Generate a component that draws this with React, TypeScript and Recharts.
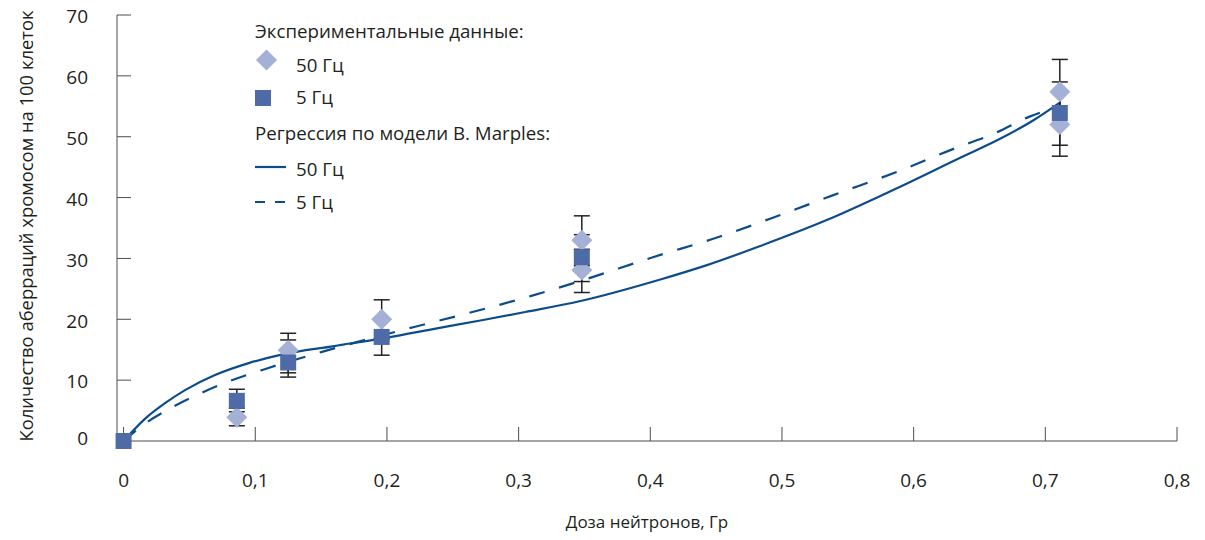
import React from "react";
import { ComposedChart, Line, Scatter, ErrorBar, XAxis, YAxis, Legend, Label } from "recharts";

// экспериментальные точки, 50 Гц
const dose50 = [0.086, 0.125, 0.196, 0.348, 0.348, 0.711, 0.711];
const aberr50 = [3.9, 14.9, 20, 33, 28.1, 57.4, 52];
const errLow50 = [1.4, 3.7, 3.2, 4.2, 3.7, 5.2, 5.2];
const errHigh50 = [1.5, 2.8, 3.2, 4.0, 3.4, 5.3, 5.2];

// экспериментальные точки, 5 Гц
const dose5 = [0, 0.086, 0.125, 0.196, 0.348, 0.711];
const aberr5 = [0, 6.6, 12.9, 17.1, 30.2, 53.9];
const errLow5 = [0, 1.8, 2.4, 3.0, 4.0, 5.3];
const errHigh5 = [0, 1.9, 3.7, 3.0, 3.7, 5.1];

// регрессия по модели B. Marples
const regDose50 = [0, 0.016, 0.032, 0.047, 0.069, 0.095, 0.12, 0.16, 0.2, 0.24, 0.271, 0.305, 0.347, 0.407, 0.443, 0.483, 0.534, 0.584, 0.635, 0.666, 0.691, 0.711];
const reg50 = [0, 3.6, 6.3, 8.4, 10.8, 12.8, 14.2, 15.6, 17.0, 18.6, 19.8, 21.2, 23.0, 26.5, 28.9, 32.0, 36.3, 41.2, 46.5, 49.7, 52.7, 55.6];
const regDose5 = [0, 0.014, 0.034, 0.054, 0.08, 0.11, 0.15, 0.19, 0.22, 0.258, 0.309, 0.347, 0.402, 0.453, 0.492, 0.539, 0.587, 0.635, 0.66, 0.688, 0.711];
const reg5 = [0, 2.5, 5.2, 7.4, 9.8, 12.0, 14.6, 17.0, 18.7, 20.8, 23.8, 26.3, 30.2, 33.6, 36.6, 40.4, 44.2, 48.4, 50.4, 53.3, 55.0];

const xTicks = [0, 0.1, 0.2, 0.3, 0.4, 0.5, 0.6, 0.7, 0.8];
const yTicks = [0, 10, 20, 30, 40, 50, 60, 70];

const pts50 = dose50.map((x, i) => ({ x, y: aberr50[i], err: [errLow50[i], errHigh50[i]] }));
const pts5 = dose5.map((x, i) => ({ x, y: aberr5[i], err: [errLow5[i], errHigh5[i]] }));
const line50 = regDose50.map((x, i) => ({ x, y: reg50[i] }));
const line5 = regDose5.map((x, i) => ({ x, y: reg5[i] }));

const FONT = "'Open Sans', sans-serif";
const TEXT = "#231f20";
const AXIS = "#4d4d4d";
const LINE = "#0d4c8c";
const DIAMOND = "#a4b0d6";
const SQUARE = "#4e6aa7";

const Diamond = (p: any) => (
  <polygon
    points={`${p.cx},${p.cy - 10.5} ${p.cx + 10.5},${p.cy} ${p.cx},${p.cy + 10.5} ${p.cx - 10.5},${p.cy}`}
    fill={DIAMOND}
  />
);
const Square = (p: any) => <rect x={p.cx - 8} y={p.cy - 8} width={16} height={16} fill={SQUARE} />;
const Nothing = () => <g />;

const fmt = (v: number) => String(v).replace(".", ",");

const YTick = (p: any) => {
  const shift = p.payload.value === 0 ? -3 : 1.5;
  return (
    <text x={p.x} y={p.y + shift} dy="0.355em" textAnchor="end" fill={TEXT} fontSize={19} fontFamily={FONT}>
      {p.payload.value}
    </text>
  );
};

const row = (top: number, left: number, text: string) => (
  <div style={{ position: "absolute", top, left, lineHeight: "24px", whiteSpace: "nowrap" }}>{text}</div>
);

const LegendBox = () => (
  <div style={{ position: "relative", width: 420, height: 230, fontFamily: FONT, fontSize: 18.7, color: TEXT }}>
    {row(19, 255, "Экспериментальные данные:")}
    <svg style={{ position: "absolute", left: 250, top: 45 }} width={40} height={170}>
      <polygon points="16.5,4.5 27,15 16.5,25.5 6,15" fill={DIAMOND} />
      <rect x={5} y={45} width={16} height={16} fill={SQUARE} />
      <line x1={5} x2={36} y1={122} y2={122} stroke={LINE} strokeWidth={2.2} />
      <line x1={5} x2={36} y1={157} y2={157} stroke={LINE} strokeWidth={2.2} strokeDasharray="10 10" />
    </svg>
    {row(53, 296, "50 Гц")}
    {row(85, 296, "5 Гц")}
    {row(121, 255, "Регрессия по модели B. Marples:")}
    {row(157, 296, "50 Гц")}
    {row(190, 296, "5 Гц")}
  </div>
);

export default function App() {
  return (
    <div style={{ margin: -8, width: 1205, height: 540, background: "#fff" }}>
      <ComposedChart width={1205} height={540} margin={{ top: 15, right: 28, bottom: 0, left: 0 }}>
        <XAxis
          type="number"
          dataKey="x"
          domain={[-0.005, 0.8]}
          ticks={xTicks}
          tickFormatter={fmt}
          height={99}
          tickSize={-14}
          tickMargin={47}
          stroke={AXIS}
          tick={{ fill: TEXT, fontSize: 19, fontFamily: FONT }}
        >
          <Label
            content={() => (
              <text x={647} y={528} textAnchor="middle" fill={TEXT} fontSize={17} fontFamily={FONT}>
                Доза нейтронов, Гр
              </text>
            )}
          />
        </XAxis>
        <YAxis
          type="number"
          domain={[0, 70]}
          ticks={yTicks}
          width={117}
          tickSize={-14}
          tickMargin={43}
          stroke={AXIS}
          tick={<YTick />}
        >
          <Label
            content={() => (
              <text
                x={33}
                y={226}
                transform="rotate(-90 33 226)"
                textAnchor="middle"
                fill={TEXT}
                fontSize={18.4}
                fontFamily={FONT}
              >
                Количество аберраций хромосом на 100 клеток
              </text>
            )}
          />
        </YAxis>
        <Legend layout="vertical" align="center" verticalAlign="middle" wrapperStyle={{ left: 0, top: 0, width: 420 }} content={() => <LegendBox />} />

        <Scatter data={pts50} dataKey="y" shape={Diamond} isAnimationActive={false} legendType="none" />
        <Scatter data={pts5} dataKey="y" shape={Square} isAnimationActive={false} legendType="none" />

        <Line data={line50} dataKey="y" type="monotone" stroke={LINE} strokeWidth={2.2} dot={false} activeDot={false} isAnimationActive={false} />
        <Line data={line5} dataKey="y" type="monotone" stroke={LINE} strokeWidth={2.2} strokeDasharray="16 15" dot={false} activeDot={false} isAnimationActive={false} />

        <Scatter data={pts50} dataKey="y" shape={Nothing} isAnimationActive={false} legendType="none">
          <ErrorBar dataKey="err" direction="y" width={8} stroke="#222" strokeWidth={1.5} />
        </Scatter>
        <Scatter data={pts5.filter((p) => p.x > 0)} dataKey="y" shape={Nothing} isAnimationActive={false} legendType="none">
          <ErrorBar dataKey="err" direction="y" width={8} stroke="#222" strokeWidth={1.5} />
        </Scatter>
      </ComposedChart>
    </div>
  );
}
